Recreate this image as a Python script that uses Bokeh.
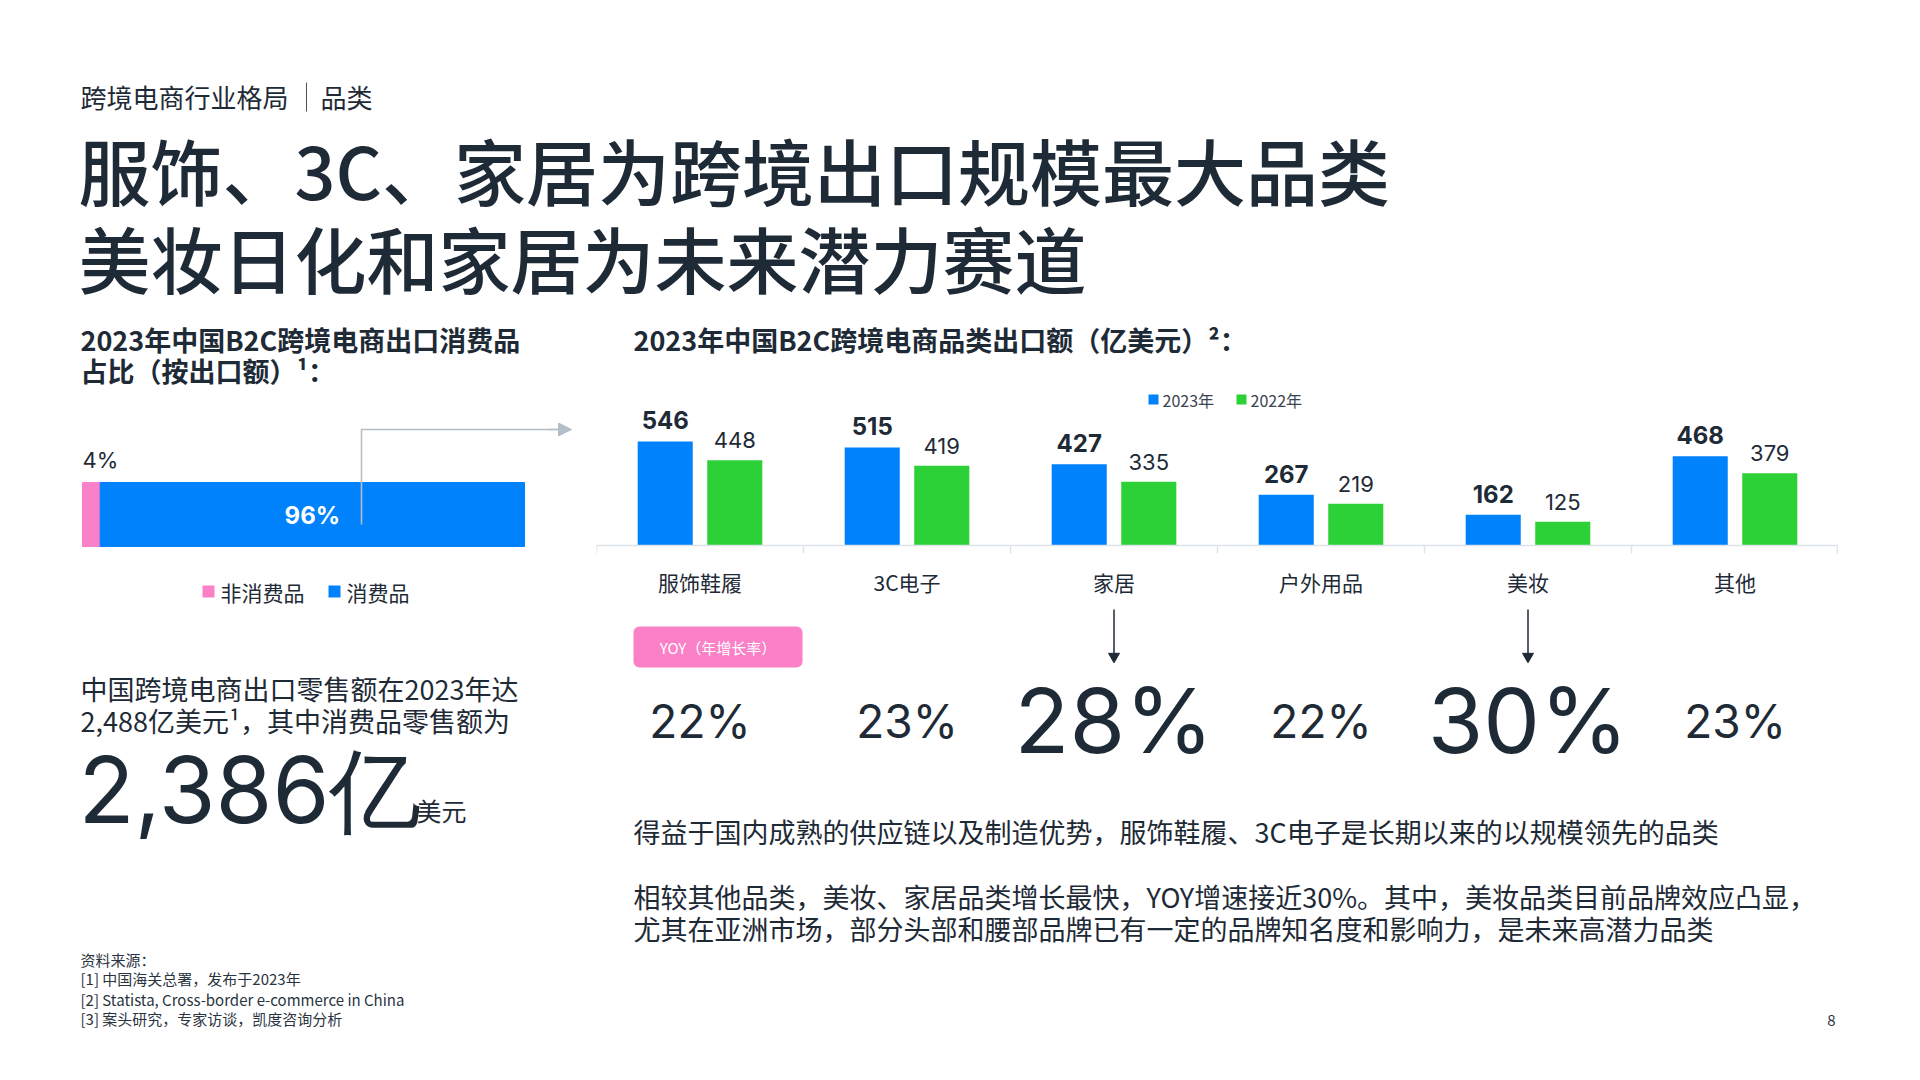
from bokeh.plotting import figure
from bokeh.layouts import column, row
from bokeh.models import (Range1d, FactorRange, ColumnDataSource, Span, BoxAnnotation, Arrow,
                          NormalHead, Label)
from bokeh.transform import dodge
from bokeh.core.properties import value
from bokeh.embed import file_html
from bokeh.resources import INLINE

# ---------------- data ----------------
categories = ["服饰鞋履", "3C电子", "家居", "户外用品", "美妆", "其他"]
exports_2023 = [546, 515, 427, 267, 162, 468]
exports_2022 = [448, 419, 335, 219, 125, 379]
yoy_labels = ["22%", "23%", "28%", "22%", "30%", "23%"]
yoy_highlight = [False, False, True, False, True, False]
series_names = ["2023年", "2022年"]

share_names = ["非消费品", "消费品"]
share_values = [4, 96]

# ---------------- style ----------------
CJK = "Noto Sans CJK SC"
CJK_TITLE = "Noto Sans CJK SC Medium"
NUM = "Inter"
DARK = "#1e2a36"
BLUE = "#0082fc"
GREEN = "#2bd136"
PINK = "#fa80c8"
CONNECT = "#b4bec9"
AXIS = "#dde3ea"
FOOT = "#2a3440"
MARGIN = 8


def blank(w, h, xr, yr, left_pad=0, top_pad=0, **kw):
    p = figure(width=w + left_pad, height=h + top_pad, x_range=xr, y_range=yr,
               output_backend="svg", toolbar_location=None,
               x_axis_location=None, y_axis_location=None,
               min_border=0, min_border_left=left_pad, min_border_right=0,
               min_border_top=top_pad, min_border_bottom=0, **kw)
    p.grid.visible = False
    p.outline_line_color = None
    p.background_fill_color = "white"
    p.border_fill_color = "white"
    return p


def txt(p, x, y, s, size, color=DARK, font=CJK, style="normal", align="left",
        baseline="middle", **kw):
    p.text(x=[x], y=[y], text=[s], text_font=value(font), text_font_size=f"{size}px",
           text_color=color, text_font_style=style, text_align=align,
           text_baseline=baseline, **kw)


def lab(p, x, y, s, size, color=DARK, font=CJK, style="normal", align="left",
        baseline="middle"):
    # x in screen pixels from frame left, y in the "px" data range (pixels from top)
    p.add_layout(Label(x=x, y=y, x_units="screen", y_units="data", y_range_name="px",
                       text=s, text_font=font, text_font_size=f"{size}px",
                       text_color=color, text_font_style=style, text_align=align,
                       text_baseline=baseline))


# ---------------- top (header + title) ----------------
TOP_H = 310
top = blank(1904, TOP_H, Range1d(0, 1904), Range1d(TOP_H, 0),
            left_pad=MARGIN, top_pad=MARGIN)
txt(top, 72, 88, "跨境电商行业格局", 26)
top.segment(x0=[298], y0=[74], x1=[298], y1=[103], line_color="#4a525c", line_width=1)
txt(top, 312, 88, "品类", 26)
txt(top, 70, 160, "服饰、3C、家居为跨境出口规模最大品类", 72, font=CJK_TITLE)
txt(top, 70, 248, "美妆日化和家居为未来潜力赛道", 72, font=CJK_TITLE)

# ---------------- left column ----------------
ROW_H = 754
LW = 588
PX_PER = 4.42
BAR_X0 = 74
left = blank(LW, ROW_H, Range1d(0, LW), Range1d(ROW_H, 0), left_pad=MARGIN,
             extra_x_ranges={"val": Range1d(-BAR_X0 / PX_PER, (LW - BAR_X0) / PX_PER)})
txt(left, 72, 21, "2023年中国B2C跨境电商出口消费品", 27, style="bold")
txt(left, 72, 52, "占比（按出口额）¹：", 27, style="bold")

share_src = ColumnDataSource({share_names[0]: [share_values[0]], share_names[1]: [share_values[1]]})
left.hbar_stack(share_names, y=196, height=64, color=[PINK, BLUE], source=share_src,
                x_range_name="val")
left.text(x=[0], y=[141], text=[f"{share_values[0]}%"], x_range_name="val",
          text_font=value(NUM), text_font_size="22px", text_color=DARK,
          text_baseline="middle", text_align="left")
left.text(x=[share_values[0] + share_values[1] / 2], y=[197], text=[f"{share_values[1]}%"],
          x_range_name="val", text_font=value(NUM), text_font_size="24px",
          text_font_style="bold", text_color="white", text_baseline="middle",
          text_align="center")
# connector arrow
left.line(x=[353, 353, 556], y=[206, 111, 111], line_color=CONNECT, line_width=1.6)
left.add_layout(Arrow(end=NormalHead(size=13, fill_color=CONNECT, line_color=CONNECT),
                      x_start=540, y_start=111, x_end=563, y_end=111,
                      line_color=CONNECT, line_width=1.6))
# legend
left.scatter(x=[200, 326], y=[273, 273], marker="square", size=12,
             color=[PINK, BLUE], line_color=None)
txt(left, 212, 273, share_names[0], 21)
txt(left, 338, 273, share_names[1], 21)

txt(left, 72, 370, "中国跨境电商出口零售额在2023年达", 27)
txt(left, 72, 402, "2,488亿美元¹，其中消费品零售额为", 27)
txt(left, 70, 471, "2,386亿", 92, font=NUM)
txt(left, 408, 491, "美元", 25)

txt(left, 72, 641, "资料来源：", 15, color=FOOT)
txt(left, 72, 660, "[1] 中国海关总署，发布于2023年", 15, color=FOOT)
txt(left, 72, 681, "[2] Statista, Cross-border e-commerce in China", 15, color=FOOT)
txt(left, 72, 700, "[3] 案头研究，专家访谈，凯度咨询分析", 15, color=FOOT)

# ---------------- bar chart column ----------------
BW = 1242
AXIS_Y = 227
SCALE = 0.1905
bar = blank(BW, ROW_H, FactorRange(factors=categories),
            Range1d(-(ROW_H - AXIS_Y) / SCALE, AXIS_Y / SCALE),
            extra_y_ranges={"px": Range1d(ROW_H, 0)})

src = ColumnDataSource(dict(cat=categories, v23=exports_2023, v22=exports_2022,
                            s23=[str(v) for v in exports_2023],
                            s22=[str(v) for v in exports_2022]))
OFF = 0.168
WID = 0.266
bar.vbar(x=dodge("cat", -OFF, range=bar.x_range), top="v23", width=WID, source=src,
         fill_color=BLUE, line_color=None)
bar.vbar(x=dodge("cat", OFF, range=bar.x_range), top="v22", width=WID, source=src,
         fill_color=GREEN, line_color=None)
bar.text(x=dodge("cat", -OFF, range=bar.x_range), y="v23", text="s23", source=src,
         text_font=value(NUM), text_font_size="24px", text_font_style="bold",
         text_color=DARK, text_align="center", text_baseline="middle", y_offset=-21)
bar.text(x=dodge("cat", OFF, range=bar.x_range), y="v22", text="s22", source=src,
         text_font=value(NUM), text_font_size="22px", text_color=DARK,
         text_align="center", text_baseline="middle", y_offset=-20)

bar.add_layout(Span(location=0, dimension="width", line_color=AXIS, line_width=1.5))
bar.segment(x0=dodge("cat", -0.5, range=bar.x_range), y0=AXIS_Y,
            x1=dodge("cat", -0.5, range=bar.x_range), y1=AXIS_Y + 8,
            source=src, y_range_name="px", line_color=AXIS, line_width=1.5)
last_src = ColumnDataSource(dict(cat=[categories[-1]]))
bar.segment(x0=dodge("cat", 0.495, range=bar.x_range), y0=AXIS_Y,
            x1=dodge("cat", 0.495, range=bar.x_range), y1=AXIS_Y + 8,
            source=last_src, y_range_name="px", line_color=AXIS, line_width=1.5)

bar.text(x="cat", y=263, text="cat", source=src, y_range_name="px",
         text_font=value(CJK), text_font_size="21px", text_color=DARK,
         text_align="center", text_baseline="middle")

lab(bar, 37, 21, "2023年中国B2C跨境电商品类出口额（亿美元）²：", 27, style="bold")

# legend
for xl, col, name in [(552, BLUE, series_names[0]), (640, GREEN, series_names[1])]:
    bar.add_layout(BoxAnnotation(left=xl, right=xl + 10, top=76, bottom=86,
                                 left_units="screen", right_units="screen",
                                 y_range_name="px", fill_color=col, fill_alpha=1,
                                 line_color=None))
    lab(bar, xl + 14, 81, name, 16, color="#3a4450")

# YOY pill
bar.add_layout(BoxAnnotation(left=37, right=206, top=308, bottom=349,
                             left_units="screen", right_units="screen",
                             y_range_name="px", fill_color=PINK, fill_alpha=1,
                             line_color=None, border_radius=6))
lab(bar, 121.5, 328.5, "YOY（年增长率）", 15, color="white", align="center")

# arrows to highlighted growth
hi_src = ColumnDataSource(dict(cat=[c for c, h in zip(categories, yoy_highlight) if h],
                               lab=[l for l, h in zip(yoy_labels, yoy_highlight) if h]))
lo_src = ColumnDataSource(dict(cat=[c for c, h in zip(categories, yoy_highlight) if not h],
                               lab=[l for l, h in zip(yoy_labels, yoy_highlight) if not h]))
bar.segment(x0="cat", y0=291, x1="cat", y1=336, source=hi_src, y_range_name="px",
            line_color=DARK, line_width=1.5)
bar.scatter(x="cat", y=338, source=hi_src, y_range_name="px", marker="inverted_triangle",
            size=11, fill_color=DARK, line_color=DARK)

bar.text(x="cat", y=402, text="lab", source=lo_src, y_range_name="px",
         text_font=value(NUM), text_font_size="46px", text_color=DARK,
         text_align="center", text_baseline="middle")
bar.text(x="cat", y=402, text="lab", source=hi_src, y_range_name="px",
         text_font=value(NUM), text_font_size="90px", text_color=DARK,
         text_align="center", text_baseline="middle")

# paragraphs
lab(bar, 37, 513, "得益于国内成熟的供应链以及制造优势，服饰鞋履、3C电子是长期以来的以规模领先的品类", 27)
lab(bar, 37, 578, "相较其他品类，美妆、家居品类增长最快，YOY增速接近30%。其中，美妆品类目前品牌效应凸显，", 27)
lab(bar, 37, 610, "尤其在亚洲市场，部分头部和腰部品牌已有一定的品牌知名度和影响力，是未来高潜力品类", 27)

lab(bar, 1235, 702, "8", 15, color=FOOT, align="center")

layout = column(top, row(left, bar))
open("out.html", "w").write(file_html(layout, INLINE))
